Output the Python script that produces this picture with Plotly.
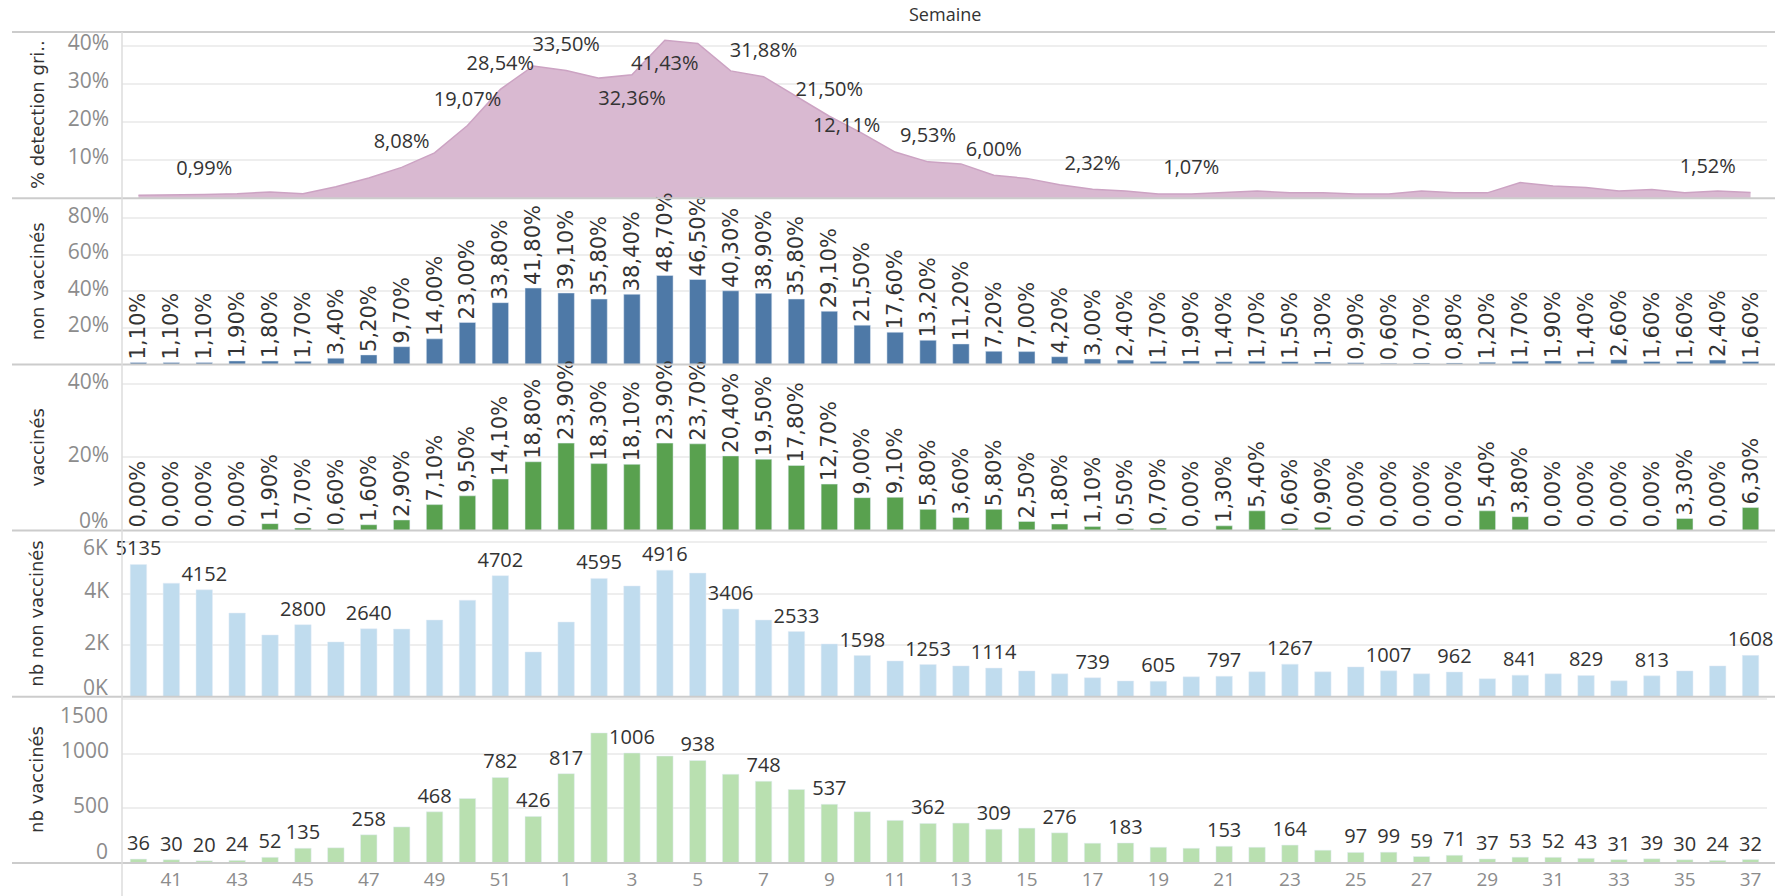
import plotly.graph_objects as go
from plotly.subplots import make_subplots

weeks = ["40", "41", "42", "43", "44", "45", "46", "47", "48", "49", "50", "51", "52",
         "1", "2", "3", "4", "5", "6", "7", "8", "9", "10", "11", "12", "13", "14", "15",
         "16", "17", "18", "19", "20", "21", "22", "23", "24", "25", "26", "27", "28",
         "29", "30", "31", "32", "33", "34", "35", "36", "37"]
tick_weeks = ["41", "43", "45", "47", "49", "51", "1", "3", "5", "7", "9", "11", "13",
              "15", "17", "19", "21", "23", "25", "27", "29", "31", "33", "35", "37"]

# % detection grippe (area)
detection = [0.8, 0.85, 0.99, 1.2, 1.6, 1.2, 3.0, 5.3, 8.08, 11.9, 19.07, 28.54, 34.7,
             33.50, 31.5, 32.36, 41.43, 40.6, 33.4, 31.88, 26.7, 21.50, 17.0, 12.11, 9.53,
             9.0, 6.00, 5.2, 3.5, 2.32, 1.9, 1.1, 1.07, 1.5, 1.9, 1.4, 1.4, 1.1, 1.1, 1.9,
             1.4, 1.4, 4.1, 3.2, 2.8, 1.9, 2.3, 1.4, 1.9, 1.52]
detection_labelled = [2, 8, 10, 11, 13, 15, 16, 19, 21, 23, 24, 26, 29, 32, 49]
detection_below = [15, 16]
detection_left = [23, 49]

# % positifs
non_vaccines = [1.1, 1.1, 1.1, 1.9, 1.8, 1.7, 3.4, 5.2, 9.7, 14.0, 23.0, 33.8, 41.8, 39.1,
                35.8, 38.4, 48.7, 46.5, 40.3, 38.9, 35.8, 29.1, 21.5, 17.6, 13.2, 11.2, 7.2,
                7.0, 4.2, 3.0, 2.4, 1.7, 1.9, 1.4, 1.7, 1.5, 1.3, 0.9, 0.6, 0.7, 0.8, 1.2,
                1.7, 1.9, 1.4, 2.6, 1.6, 1.6, 2.4, 1.6]
vaccines = [0.0, 0.0, 0.0, 0.0, 1.9, 0.7, 0.6, 1.6, 2.9, 7.1, 9.5, 14.1, 18.8, 23.9, 18.3,
            18.1, 23.9, 23.7, 20.4, 19.5, 17.8, 12.7, 9.0, 9.1, 5.8, 3.6, 5.8, 2.5, 1.8,
            1.1, 0.5, 0.7, 0.0, 1.3, 5.4, 0.6, 0.9, 0.0, 0.0, 0.0, 0.0, 5.4, 3.8, 0.0, 0.0,
            0.0, 0.0, 3.3, 0.0, 6.3]

# effectifs
nb_non_vaccines = [5135, 4410, 4152, 3250, 2400, 2800, 2130, 2640, 2630, 2980, 3750, 4702,
                   1740, 2900, 4595, 4300, 4916, 4800, 3406, 2980, 2533, 2050, 1598, 1390,
                   1253, 1200, 1114, 1006, 890, 739, 615, 605, 774, 797, 968, 1267, 968,
                   1161, 1007, 890, 962, 697, 841, 890, 829, 620, 813, 1006, 1200, 1608]
nb_non_vaccines_labelled = [0, 2, 5, 7, 11, 14, 16, 18, 20, 22, 24, 26, 29, 31, 33, 35, 38,
                            40, 42, 44, 46, 49]
nb_vaccines = [36, 30, 20, 24, 52, 135, 139, 258, 330, 468, 590, 782, 426, 817, 1190, 1006,
               978, 938, 812, 748, 673, 537, 469, 390, 362, 365, 309, 319, 276, 181, 183,
               144, 135, 153, 144, 164, 117, 97, 99, 59, 71, 37, 53, 52, 43, 31, 39, 30, 24, 32]
nb_vaccines_labelled = [0, 1, 2, 3, 4, 5, 7, 9, 11, 12, 13, 15, 17, 19, 21, 24, 26, 28, 30,
                        33, 35] + list(range(37, 50))


def pct(v):
    return f"{v:.2f}".replace(".", ",") + "%"


LABEL_FONT = dict(family="Open Sans", size=20, color="#333333")
ROT_FONT = dict(family="DejaVu Sans", size=21, color="#333333")
TICK_FONT = dict(family="Open Sans", size=21, color="#8c8c8c")

FIG_W, FIG_H = 1775, 896
M_L, M_R, M_T, M_B = 122, 8, 32, 33
PLOT_W = FIG_W - M_L - M_R

fig = make_subplots(rows=5, cols=1, shared_xaxes=True, vertical_spacing=0)

# row 1: area
fig.add_trace(go.Scatter(
    x=weeks, y=detection, mode="lines", fill="tozeroy",
    line=dict(color="#cca3c3", width=1.5), fillcolor="#d9b9d1", hoverinfo="skip"
), row=1, col=1)
det_text = [pct(v) if i in detection_labelled else "" for i, v in enumerate(detection)]
det_pos = []
for i in range(len(weeks)):
    if i in detection_below:
        det_pos.append("bottom center")
    elif i in detection_left:
        det_pos.append("top left")
    else:
        det_pos.append("top center")
fig.add_trace(go.Scatter(
    x=weeks, y=detection, mode="markers+text", text=det_text, textposition=det_pos,
    marker=dict(size=22, opacity=0), textfont=LABEL_FONT, cliponaxis=False,
    hoverinfo="skip"
), row=1, col=1)

# rows 2-3: % bars with rotated labels
fig.add_trace(go.Bar(
    x=weeks, y=non_vaccines, marker_color="#4e79a7",
    text=[pct(v) for v in non_vaccines], textposition="outside", textangle=-90,
    textfont=ROT_FONT, constraintext="none", cliponaxis=False
), row=2, col=1)
fig.add_trace(go.Bar(
    x=weeks, y=vaccines, marker_color="#59a14f",
    text=[pct(v) for v in vaccines], textposition="outside", textangle=-90,
    textfont=ROT_FONT, constraintext="none", cliponaxis=False
), row=3, col=1)

# rows 4-5: counts
fig.add_trace(go.Bar(
    x=weeks, y=nb_non_vaccines, marker_color="#c0dcee",
    text=[str(v) if i in nb_non_vaccines_labelled else "" for i, v in enumerate(nb_non_vaccines)],
    textposition="outside", textangle=0, textfont=LABEL_FONT,
    constraintext="none", cliponaxis=False
), row=4, col=1)
fig.add_trace(go.Bar(
    x=weeks, y=nb_vaccines, marker_color="#b9e0b0",
    text=[str(v) if i in nb_vaccines_labelled else "" for i, v in enumerate(nb_vaccines)],
    textposition="outside", textangle=0, textfont=LABEL_FONT,
    constraintext="none", cliponaxis=False
), row=5, col=1)

# edge tick labels are drawn separately (shifted inward, like the original)
yaxes = [
    ([0, 43.6], [10, 20, 30, 40], ["10%", "20%", "30%", "40%"]),
    ([0, 91], [20, 40, 60, 80], ["20%", "40%", "60%", "80%"]),
    ([0, 45.4], [0, 20, 40], ["", "20%", "40%"]),
    ([0, 6450], [0, 2000, 4000, 6000], ["", "2K", "4K", ""]),
    ([0, 1520], [0, 500, 1000, 1500], ["", "500", "1000", ""]),
]
for r, (rng, tv, tt) in enumerate(yaxes, start=1):
    fig.update_yaxes(range=rng, tickvals=tv, ticktext=tt, showgrid=True,
                     gridcolor="#eeeeee", gridwidth=1.5, zeroline=False, showline=False,
                     tickfont=TICK_FONT, ticklabelstandoff=12, ticklabelshift=-3,
                     automargin=False, fixedrange=True, row=r, col=1)
fig.update_xaxes(type="category", categoryorder="array", categoryarray=weeks,
                 range=[-0.5, len(weeks) - 0.5], showgrid=False, zeroline=False,
                 showline=False, tickvals=tick_weeks, tickfont=dict(TICK_FONT, size=19),
                 ticklabelstandoff=3, automargin=False)

edge_ticks = [("y3", 0, "0%", 11), ("y4", 0, "0K", 10), ("y4", 6000, "6K", -5),
              ("y5", 0, "0", 12), ("y5", 1500, "1500", -16)]
for yref, yv, txt, shift in edge_ticks:
    fig.add_annotation(text=txt, xref="paper", yref=yref, x=-12 / PLOT_W, y=yv,
                       xanchor="right", yanchor="middle", yshift=shift, showarrow=False,
                       font=TICK_FONT)

titles = ["% detection gri..", "non vaccinés", "vaccinés", "nb non vaccinés", "nb vaccinés"]
for k, t in enumerate(titles):
    fig.add_annotation(text=t, textangle=-90, xref="paper", yref="paper",
                       x=-85 / PLOT_W, y=0.9 - 0.2 * k, xanchor="center",
                       yanchor="middle", showarrow=False,
                       font=dict(family="DejaVu Sans", size=18, color="#333333"))

fig.add_annotation(text="Semaine", xref="paper", yref="paper", x=0.5, y=1,
                   yanchor="bottom", yshift=4, showarrow=False,
                   font=dict(family="Open Sans", size=18, color="#333333"))

# panel separators
for k in range(6):
    fig.add_shape(type="line", xref="paper", yref="paper", x0=-110 / PLOT_W, x1=1.01,
                  y0=0.2 * k, y1=0.2 * k, line=dict(color="#cccccc", width=2))
fig.add_shape(type="line", xref="paper", yref="paper", x0=0, x1=0, y0=-0.04, y1=1,
              line=dict(color="#dddddd", width=1.5))

fig.update_layout(
    width=FIG_W, height=FIG_H,
    margin=dict(l=M_L, r=M_R, t=M_T, b=M_B),
    plot_bgcolor="white", paper_bgcolor="white",
    showlegend=False, bargap=0.5,
)

# drop the default page margin so the figure fills the window exactly
fig.write_html("out.html", config={"displayModeBar": False},
               post_script="document.body.style.margin = '0';")
